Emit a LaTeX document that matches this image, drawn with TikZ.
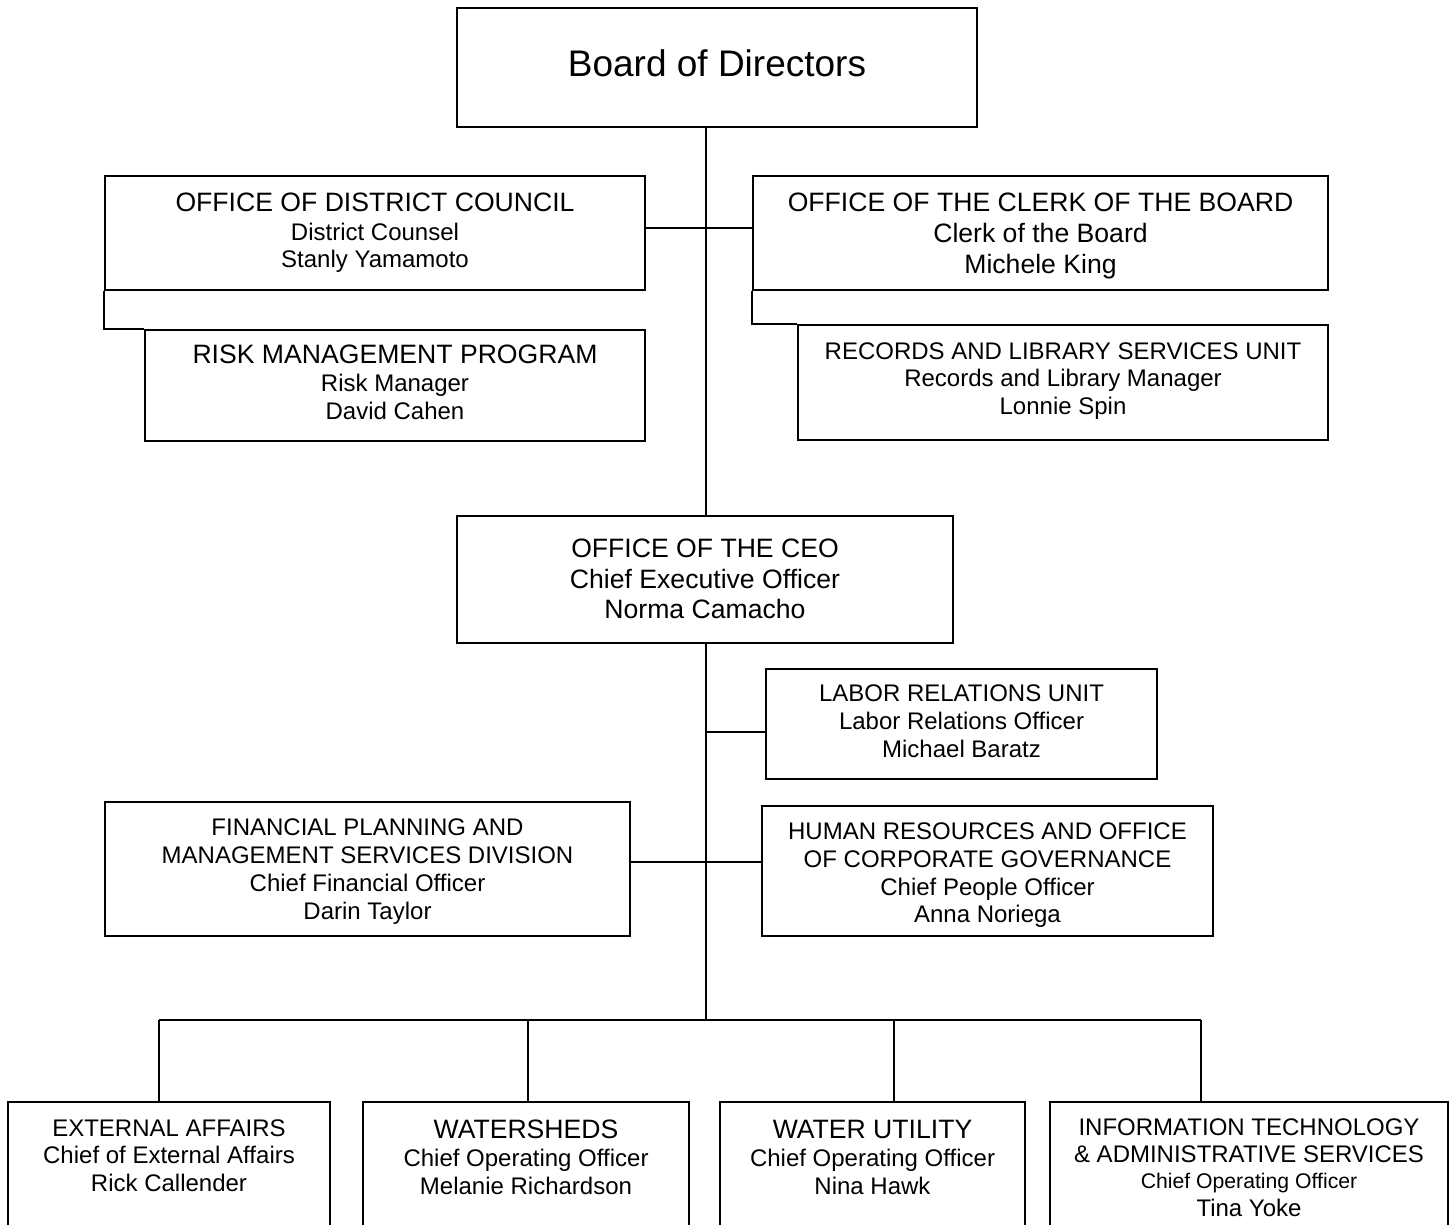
\documentclass[tikz,border=0pt]{standalone}
\usepackage{fontspec}
\setmainfont{Liberation Sans}
\newcommand\fBig{\fontsize{37}{40}\selectfont}
\newcommand\fMid{\fontsize{26.6}{30}\selectfont}
\newcommand\fSm{\fontsize{24}{28}\selectfont}
\newcommand\fXs{\fontsize{21.2}{24}\selectfont}
\newcommand\Tline[5]{\node[tline,font=#4] (#1) at (#2,#3) {#5};}
\begin{document}
\begin{tikzpicture}[x=1pt,y=-1pt,
  box/.style={draw,line width=1.6pt,inner sep=0pt},
  tline/.style={anchor=base,inner sep=0pt},
  conn/.style={line width=1.6pt}]
\useasboundingbox (0,0) rectangle (1455,1224);
\clip (0,0) rectangle (1455,1224);
% boxes
\node[box,minimum width=520,minimum height=119] (Board) at (717,67.5) {};
\node[box,minimum width=540,minimum height=114] (DC) at (375,233) {};
\node[box,minimum width=575,minimum height=114] (Clerk) at (1040.5,233) {};
\node[box,minimum width=500,minimum height=111] (Risk) at (395,385.5) {};
\node[box,minimum width=530,minimum height=115] (Records) at (1063,382.5) {};
\node[box,minimum width=496,minimum height=127] (CEO) at (705,579.5) {};
\node[box,minimum width=391,minimum height=110] (Labor) at (961.5,724) {};
\node[box,minimum width=525,minimum height=134] (Fin) at (367.5,869) {};
\node[box,minimum width=451,minimum height=130] (HR) at (987.5,871) {};
\node[box,minimum width=322,minimum height=140] (EA) at (169,1172) {};
\node[box,minimum width=326,minimum height=140] (WS) at (526,1172) {};
\node[box,minimum width=305,minimum height=140] (WU) at (872.5,1172) {};
\node[box,minimum width=398,minimum height=140] (IT) at (1249,1172) {};
% texts
\Tline{tBoard}{717}{76}{\fBig}{Board of Directors}
\Tline{tDC1}{375}{211.5}{\fMid}{OFFICE OF DISTRICT COUNCIL}
\Tline{tDC2}{375}{240.6}{\fSm}{District Counsel}
\Tline{tDC3}{375}{267.6}{\fSm}{Stanly Yamamoto}
\Tline{tCl1}{1040.5}{211.5}{\fMid}{OFFICE OF THE CLERK OF THE BOARD}
\Tline{tCl2}{1040.5}{242.5}{\fMid}{Clerk of the Board}
\Tline{tCl3}{1040.5}{273.5}{\fMid}{Michele King}
\Tline{tRi1}{395}{363.5}{\fMid}{RISK MANAGEMENT PROGRAM}
\Tline{tRi2}{395}{391.6}{\fSm}{Risk Manager}
\Tline{tRi3}{395}{419.6}{\fSm}{David Cahen}
\Tline{tRe1}{1063}{359.6}{\fSm}{RECORDS AND LIBRARY SERVICES UNIT}
\Tline{tRe2}{1063}{386.6}{\fSm}{Records and Library Manager}
\Tline{tRe3}{1063}{414.6}{\fSm}{Lonnie Spin}
\Tline{tCE1}{705}{557.5}{\fMid}{OFFICE OF THE CEO}
\Tline{tCE2}{705}{588.5}{\fMid}{Chief Executive Officer}
\Tline{tCE3}{705}{618.5}{\fMid}{Norma Camacho}
\Tline{tLa1}{961.5}{701.6}{\fSm}{LABOR RELATIONS UNIT}
\Tline{tLa2}{961.5}{729.6}{\fSm}{Labor Relations Officer}
\Tline{tLa3}{961.5}{757.6}{\fSm}{Michael Baratz}
\Tline{tFi1}{367.5}{835.6}{\fSm}{FINANCIAL PLANNING AND}
\Tline{tFi2}{367.5}{863.6}{\fSm}{MANAGEMENT SERVICES DIVISION}
\Tline{tFi3}{367.5}{891.6}{\fSm}{Chief Financial Officer}
\Tline{tFi4}{367.5}{919.6}{\fSm}{Darin Taylor}
\Tline{tHR1}{987.5}{839.6}{\fSm}{HUMAN RESOURCES AND OFFICE}
\Tline{tHR2}{987.5}{867.6}{\fSm}{OF CORPORATE GOVERNANCE}
\Tline{tHR3}{987.5}{895.6}{\fSm}{Chief People Officer}
\Tline{tHR4}{987.5}{922.6}{\fSm}{Anna Noriega}
\Tline{tEA1}{169}{1136.6}{\fSm}{EXTERNAL AFFAIRS}
\Tline{tEA2}{169}{1163.6}{\fSm}{Chief of External Affairs}
\Tline{tEA3}{169}{1191.6}{\fSm}{Rick Callender}
\Tline{tWS1}{526}{1138.5}{\fMid}{WATERSHEDS}
\Tline{tWS2}{526}{1166.6}{\fSm}{Chief Operating Officer}
\Tline{tWS3}{526}{1194.6}{\fSm}{Melanie Richardson}
\Tline{tWU1}{872.5}{1138.5}{\fMid}{WATER UTILITY}
\Tline{tWU2}{872.5}{1166.6}{\fSm}{Chief Operating Officer}
\Tline{tWU3}{872.5}{1194.6}{\fSm}{Nina Hawk}
\Tline{tIT1}{1249}{1135.6}{\fSm}{INFORMATION TECHNOLOGY}
\Tline{tIT2}{1249}{1162.6}{\fSm}{\& ADMINISTRATIVE SERVICES}
\Tline{tIT3}{1249}{1188.6}{\fXs}{Chief Operating Officer}
\Tline{tIT4}{1249}{1216.6}{\fSm}{Tina Yoke}
% connectors
\coordinate (bus) at (706,1020);
\draw[conn] (bus |- Board.south) -- (bus |- CEO.north);
\draw[conn] ([yshift=5]DC.east) -- ([yshift=5]Clerk.west);
\draw[conn] (DC.south west) |- (Risk.north west);
\draw[conn] (Clerk.south west) |- (Records.north west);
\draw[conn] (bus |- CEO.south) -- (bus);
\draw[conn] ([yshift=-8]Labor.west) -- ([yshift=-8]Labor.west -| bus);
\draw[conn] ([yshift=7]Fin.east) -- ([yshift=7]Fin.east -| HR.west);
\coordinate (d1) at (159,1020);
\coordinate (d2) at (528,1020);
\coordinate (d3) at (894,1020);
\coordinate (d4) at (1201,1020);
\draw[conn] (d1) -- (d4);
\draw[conn] (d1) -- (d1 |- EA.north);
\draw[conn] (d2) -- (d2 |- WS.north);
\draw[conn] (d3) -- (d3 |- WU.north);
\draw[conn] (d4) -- (d4 |- IT.north);
\end{tikzpicture}
\end{document}
